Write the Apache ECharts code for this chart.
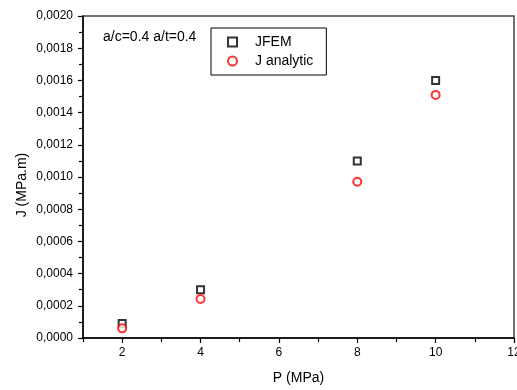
<!DOCTYPE html>
<html>
<head>
<meta charset="utf-8">
<script src="https://cdn.jsdelivr.net/npm/echarts@6/dist/echarts.min.js"></script>
<style>html,body{margin:0;padding:0;background:#fff;}#c{width:517px;height:390px;}</style>
</head>
<body>
<div id="c"></div>
<script>
const pressure = [2, 4, 8, 10];
const jFEM = [0.00009, 0.00030, 0.00110, 0.00160];
const jAnalytic = [0.00006, 0.000242, 0.00097, 0.00151];
const xLabelValues = [2, 4, 6, 8, 10, 12];
const xMinorValues = [1, 3, 5, 7, 9, 11];
const seriesNames = ['JFEM', 'J analytic'];
const annotation = 'a/c=0.4 a/t=0.4';

const font = 'Liberation Sans, Arial, sans-serif';
const chart = echarts.init(document.getElementById('c'));
chart.setOption({
  animation: false,
  backgroundColor: '#fff',
  grid: {left: 83, right: 3, top: 16, bottom: 52, show: true, borderColor: '#444', borderWidth: 1.5,
    backgroundColor: 'transparent', containLabel: false, outerBoundsMode: 'none'},
  xAxis: [{
    type: 'value', min: 1, max: 12, interval: 1, position: 'bottom',
    name: 'P (MPa)', nameLocation: 'middle', nameGap: 33, nameMoveOverlap: false,
    nameTextStyle: {fontFamily: font, fontSize: 14, color: '#000'},
    axisLine: {show: true, lineStyle: {color: '#000', width: 1.5}},
    axisTick: {show: true, inside: false, length: 5, customValues: xLabelValues, lineStyle: {color: '#000', width: 1.2}},
    axisLabel: {customValues: xLabelValues, margin: 9, fontFamily: font, fontSize: 12, color: '#000'},
    splitLine: {show: false}
  }, {
    type: 'value', min: 1, max: 12, interval: 1, position: 'bottom', offset: 0,
    axisLine: {show: false},
    axisTick: {show: true, inside: false, length: 4, customValues: xMinorValues, lineStyle: {color: '#000', width: 1.2}},
    axisLabel: {show: false},
    splitLine: {show: false}
  }],
  yAxis: {
    type: 'value', min: 0, max: 0.002, interval: 0.0002,
    name: 'J (MPa.m)', nameLocation: 'middle', nameGap: 54, nameRotate: 90, nameMoveOverlap: false,
    nameTextStyle: {fontFamily: font, fontSize: 14, color: '#000', padding: [0, 16, 0, 0]},
    axisLine: {show: true, lineStyle: {color: '#000', width: 1.5}},
    axisTick: {show: true, inside: false, length: 5, lineStyle: {color: '#000', width: 1.2}},
    minorTick: {show: true, splitNumber: 2, length: 4, lineStyle: {color: '#000', width: 1.2}},
    axisLabel: {margin: 10, fontFamily: font, fontSize: 12, color: '#000',
      formatter: v => v.toFixed(4).replace('.', ',')},
    splitLine: {show: false}
  },
  legend: {
    orient: 'vertical', left: 211, top: 28,
    padding: [7, 13, 7, 16], itemGap: 5, itemWidth: 9, itemHeight: 9,
    borderColor: '#000', borderWidth: 1, backgroundColor: '#fff',
    textStyle: {fontFamily: font, fontSize: 14, color: '#000', padding: [0, 0, 0, 13]},
    data: seriesNames
  },
  graphic: [{
    type: 'text', left: 103, top: 30,
    style: {text: annotation, fontFamily: font, fontSize: 14, fill: '#000'}
  }],
  series: [{
    name: seriesNames[0], type: 'scatter', symbol: 'emptyRect', symbolSize: 7,
    itemStyle: {color: '#000', borderColor: '#000', borderWidth: 1},
    data: pressure.map((p, i) => [p, jFEM[i]])
  }, {
    name: seriesNames[1], type: 'scatter', symbol: 'emptyCircle', symbolSize: 8,
    itemStyle: {color: '#ff0000', borderColor: '#ff0000', borderWidth: 1},
    data: pressure.map((p, i) => [p, jAnalytic[i]])
  }]
});
</script>
</body>
</html>
